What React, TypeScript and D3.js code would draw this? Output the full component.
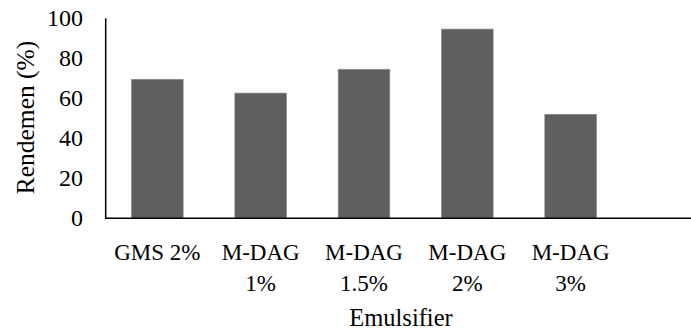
import React from "react";
import * as d3 from "d3";

const categories: string[][] = [
  ["GMS 2%"],
  ["M-DAG", "1%"],
  ["M-DAG", "1.5%"],
  ["M-DAG", "2%"],
  ["M-DAG", "3%"],
];
const rendemen: number[] = [69.5, 62.6, 74.5, 94.6, 52];
const yTicks: number[] = [0, 20, 40, 60, 80, 100];

const W = 691;
const H = 331;
const FONT = "'Liberation Serif', 'Times New Roman', serif";

export default function App() {
  const keys = categories.map((c) => c.join(" "));
  const x = d3
    .scaleBand<string>()
    .domain(keys)
    .range([105.7, 622.3])
    .paddingInner(0.5)
    .paddingOuter(0.25);
  const y = d3.scaleLinear().domain([0, 100]).range([218.3, 18.3]);

  return (
    <div style={{ position: "absolute", left: 0, top: 0 }}>
      <svg width={W} height={H} style={{ display: "block" }}>
        <rect width={W} height={H} fill="#ffffff" />
        {rendemen.map((v, i) => (
          <rect
            key={keys[i]}
            x={x(keys[i])!}
            y={y(v)}
            width={x.bandwidth()}
            height={y(0) - y(v)}
            fill="#5f5f5f"
            stroke="#8c8c8c"
            strokeWidth={0.7}
          />
        ))}
        {/* axes */}
        <line x1={105.7} x2={105.7} y1={y(100)} y2={y(0)} stroke="#000" strokeWidth={1.5} />
        <line x1={105} x2={691} y1={y(0)} y2={y(0)} stroke="#000" strokeWidth={1.5} />
        {yTicks.map((t) => (
          <text
            key={t}
            x={83}
            y={y(t)}
            dy="0.34em"
            textAnchor="end"
            fontFamily={FONT}
            fontSize={24}
            fill="#000"
          >
            {t}
          </text>
        ))}
        {categories.map((lines, i) => (
          <text
            key={keys[i]}
            x={x(keys[i])! + x.bandwidth() / 2}
            y={260}
            textAnchor="middle"
            fontFamily={FONT}
            fontSize={23}
            fill="#000"
          >
            {lines.map((l, j) => (
              <tspan key={j} x={x(keys[i])! + x.bandwidth() / 2} dy={j === 0 ? 0 : 30.5}>
                {l}
              </tspan>
            ))}
          </text>
        ))}
        <text
          x={401}
          y={326}
          textAnchor="middle"
          fontFamily={FONT}
          fontSize={24.5}
          fill="#000"
        >
          Emulsifier
        </text>
        <text
          transform={`translate(34, 117.5) rotate(-90)`}
          textAnchor="middle"
          fontFamily={FONT}
          fontSize={25.5}
          fill="#000"
        >
          Rendemen (%)
        </text>
      </svg>
    </div>
  );
}
